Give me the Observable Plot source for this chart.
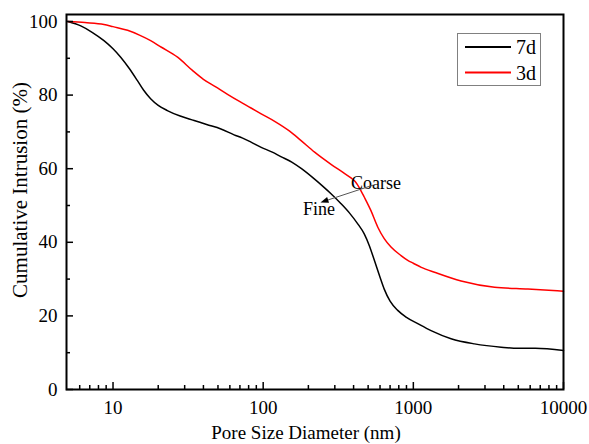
<!DOCTYPE html>
<html>
<head>
<meta charset="utf-8">
<script src="https://cdn.jsdelivr.net/npm/d3@7"></script>
<script src="https://cdn.jsdelivr.net/npm/@observablehq/plot@0.6"></script>
<style>
  html, body { margin: 0; padding: 0; background: #fff; }
  #chart { position: relative; width: 589px; height: 444px; font-family: "Liberation Serif", "Times New Roman", serif; }
  #chart svg, #chart svg text { font-family: "Liberation Serif", "Times New Roman", serif !important; }
  #legend { position: absolute; left: 457px; top: 33px; width: 82px; height: 51px; border: 1px solid #808080; background: #fff; }
</style>
</head>
<body>
<div id="chart"><div id="legend"></div></div>
<script>
// Mercury intrusion porosimetry: cumulative intrusion vs pore diameter
const seriesNames = ["7d", "3d"];
const seriesColors = ["#000000", "#ff0000"];

// 7 days of curing
const diam7d = [5.0, 6.1, 7.3, 8.7, 10, 11.25, 12.8, 14.5, 16, 17.8, 20, 23, 28, 34.7, 42, 52.3, 64, 73, 83, 97, 115, 131, 155, 180, 215, 250, 283, 330, 375, 430, 471, 510, 550, 600, 641, 700, 787, 900, 1070, 1312, 1783, 2553, 3846, 5000, 6500, 10000];
const cum7d  = [100, 98.8, 97.0, 94.8, 92.6, 90.3, 87.3, 84.0, 81.3, 79.0, 77.2, 75.8, 74.3, 73.1, 72.0, 70.8, 69.2, 68.3, 67.2, 65.8, 64.5, 63.3, 61.8, 60.0, 57.5, 55.2, 53.2, 50.5, 48.0, 44.8, 42.3, 39.0, 35.1, 30.5, 27.2, 24.0, 21.5, 19.6, 17.9, 16.0, 13.8, 12.4, 11.5, 11.2, 11.2, 10.6];

// 3 days of curing
const diam3d = [5.0, 6.5, 8.7, 10, 12.5, 15, 17.8, 21, 26.9, 33.8, 40, 48, 57.9, 70, 83, 97, 120, 150, 178, 220, 283, 340, 384, 410, 448, 471, 522, 580, 640, 710, 828, 918, 1000, 1130, 1400, 2080, 3475, 5794, 7000, 10000];
const cum3d  = [100, 99.7, 99.2, 98.6, 97.6, 96.3, 94.8, 93.0, 90.3, 86.7, 84.3, 82.3, 80.2, 78.2, 76.5, 74.9, 72.8, 70.2, 67.7, 64.5, 61.2, 59.0, 57.5, 56.5, 54.0, 52.3, 48.6, 44.1, 41.0, 38.7, 36.4, 35.1, 34.3, 33.2, 31.8, 29.5, 27.8, 27.3, 27.1, 26.7];

// axis ticks
const xMajor = [10, 100, 1000, 10000];
const xMinor = [6, 7, 8, 9, 20, 30, 40, 50, 60, 70, 80, 90, 200, 300, 400, 500, 600, 700, 800, 900, 2000, 3000, 4000, 5000, 6000, 7000, 8000, 9000];
const yMajor = [0, 20, 40, 60, 80, 100];
const yMinor = [10, 30, 50, 70, 90];

const xTitle = "Pore Size Diameter (nm)";
const yTitle = "Cumulative Intrusion (%)";

// annotation
const noteText = ["Coarse", "Fine"];
const noteX = [563, 235];
const noteY = [56.0, 48.9];
const noteAnchor = ["start", "end"];
const arrowFrom = [544, 55.4];
const arrowTo = [242.6, 50.7];

const rows = [
  ...diam7d.map((d, i) => ({s: seriesNames[0], d, v: cum7d[i]})),
  ...diam3d.map((d, i) => ({s: seriesNames[1], d, v: cum3d[i]}))
];
const notes = noteText.map((t, i) => ({t, x: noteX[i], y: noteY[i], a: noteAnchor[i]}));

// gray leader line with a small filled arrowhead at its end
function noteArrow(index, scales) {
  const x1 = scales.x(arrowFrom[0]), y1 = scales.y(arrowFrom[1]);
  const x2 = scales.x(arrowTo[0]), y2 = scales.y(arrowTo[1]);
  const ang = Math.atan2(y2 - y1, x2 - x1);
  const L = 8, W = 3;
  const bx = x2 - L * Math.cos(ang), by = y2 - L * Math.sin(ang);
  const nx = -Math.sin(ang) * W, ny = Math.cos(ang) * W;
  const g = d3.create("svg:g");
  g.append("line").attr("x1", x1).attr("y1", y1).attr("x2", bx).attr("y2", by)
    .attr("stroke", "#555").attr("stroke-width", 1);
  g.append("path").attr("d", `M${x2},${y2}L${bx + nx},${by + ny}L${bx - nx},${by - ny}Z`).attr("fill", "#000");
  return g.node();
}

const W = 589, H = 444;
const mL = 66, mR = 26, mT = 14, mB = 55;
const frameW = W - mL - mR, frameH = H - mT - mB;
const fontSize = 19;

const chart = Plot.plot({
  width: W,
  height: H,
  marginLeft: mL,
  marginRight: mR,
  marginTop: mT,
  marginBottom: mB,
  style: {fontSize: fontSize + "px", background: "#fff", color: "#000"},
  x: {type: "log", domain: [4.9, 10000]},
  y: {domain: [0, 101.9]},
  color: {domain: seriesNames, range: seriesColors},
  marks: [
    Plot.line(rows, {x: "d", y: "v", z: "s", stroke: "s", strokeWidth: 1.5, curve: "monotone-x"}),
    // tick labels
    Plot.axisX({ticks: xMajor, tickSize: 0, tickPadding: 11, tickFormat: d => String(d), label: null, fontSize}),
    Plot.axisY({ticks: yMajor, tickSize: 0, tickPadding: 9, tickFormat: d => String(d), label: null, fontSize}),
    // inward ticks along the bottom and left edges
    Plot.tickX(xMajor, {x: d => d, insetTop: frameH - 7, stroke: "#000", strokeWidth: 1.5}),
    Plot.tickX(xMinor, {x: d => d, insetTop: frameH - 4, stroke: "#000", strokeWidth: 1.5}),
    Plot.tickY(yMajor, {y: d => d, insetRight: frameW - 7, stroke: "#000", strokeWidth: 1.5}),
    Plot.tickY(yMinor, {y: d => d, insetRight: frameW - 4, stroke: "#000", strokeWidth: 1.5}),
    Plot.frame({stroke: "#000", strokeWidth: 2}),
    // axis titles
    Plot.text([xTitle], {frameAnchor: "bottom", lineAnchor: "bottom", dy: 49, dx: -9, fontSize}),
    Plot.text([yTitle], {frameAnchor: "left", textAnchor: "middle", rotate: -90, dx: -46, dy: -12, fontSize: 21}),
    // annotation
    Plot.text(notes, {x: "x", y: "y", text: "t", textAnchor: "a", fontSize: 18}),
    noteArrow
  ]
});

document.getElementById("chart").prepend(chart);

// legend box
const lg = d3.select("#legend").append("svg").attr("width", 82).attr("height", 51);
seriesNames.forEach((name, i) => {
  const cy = 13 + i * 25.5;
  lg.append("line").attr("x1", 7).attr("x2", 53).attr("y1", cy).attr("y2", cy)
    .attr("stroke", seriesColors[i]).attr("stroke-width", 2);
  lg.append("text").attr("x", 58).attr("y", cy).attr("dy", "0.35em")
    .attr("font-size", 20)
    .text(name);
});
</script>
</body>
</html>
